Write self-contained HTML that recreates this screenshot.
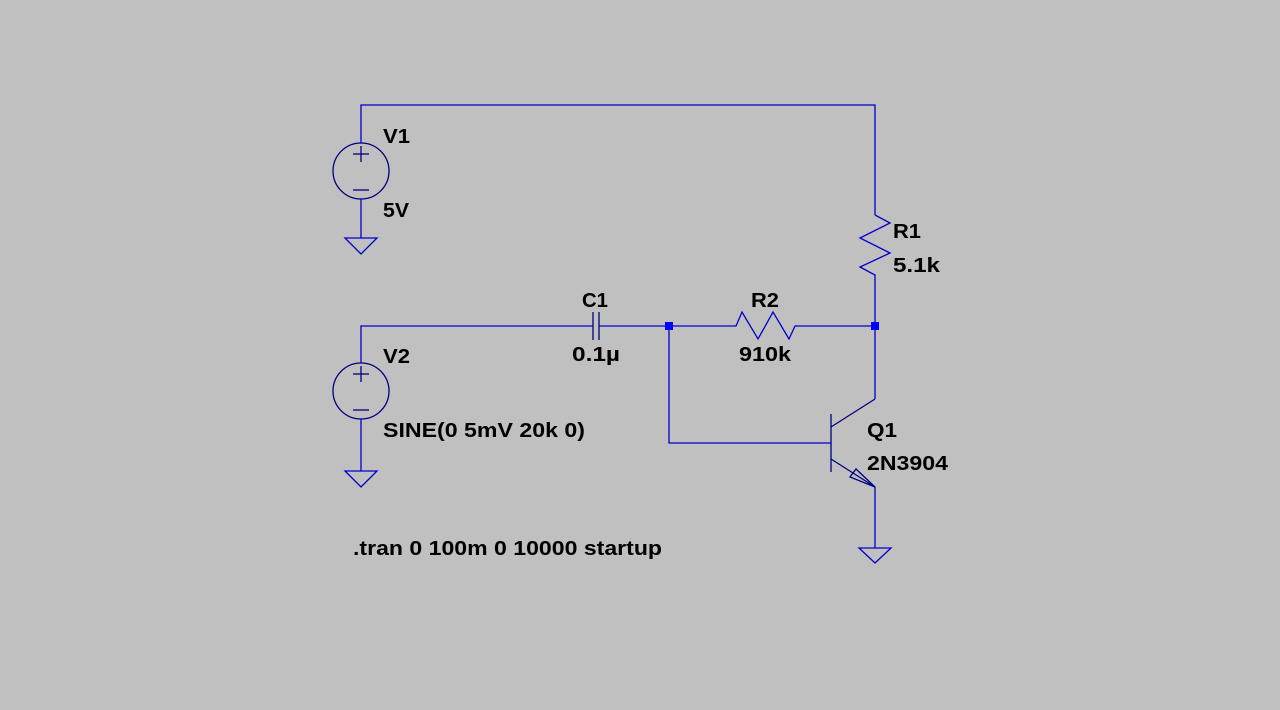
<!DOCTYPE html>
<html><head><style>
html,body{margin:0;padding:0;background:#c0c0c0;}
svg{display:block}
text{font-family:"Liberation Sans",sans-serif;font-weight:bold;font-size:20px;fill:#000;}
</style></head><body>
<svg width="1280" height="710" viewBox="0 0 1280 710">
<g stroke="#0000cc" stroke-width="1.3" fill="none">
<polyline points="361,143 361,105 875,105 875,215"/>
<polyline points="875,215 890,223 860,238 890,253 860,267 875,275 875,399"/>
<circle cx="361" cy="171" r="28" stroke="#000080"/>
<line x1="353" y1="154" x2="369" y2="154" stroke="#000080"/><line x1="361" y1="146" x2="361" y2="162" stroke="#000080"/>
<line x1="353" y1="190" x2="369" y2="190" stroke="#000080"/>
<line x1="361" y1="199" x2="361" y2="238"/>
<polygon points="345,238 377,238 361,254"/>
<polyline points="361,363 361,326 593,326"/>
<circle cx="361" cy="391" r="28" stroke="#000080"/>
<line x1="353" y1="374" x2="369" y2="374" stroke="#000080"/><line x1="361" y1="366" x2="361" y2="382" stroke="#000080"/>
<line x1="353" y1="410" x2="369" y2="410" stroke="#000080"/>
<line x1="361" y1="419" x2="361" y2="471"/>
<polygon points="345,471 377,471 361,487"/>
<line x1="593" y1="312" x2="593" y2="340" stroke="#000080"/>
<line x1="599" y1="312" x2="599" y2="340" stroke="#000080"/>
<polyline points="599,326 736,326 742,312 758,339 773,312 789,339 795,326 875,326"/>
<polyline points="669,326 669,443 831,443"/>
<g stroke="#000080">
<line x1="831" y1="414" x2="831" y2="472"/>
<line x1="831" y1="427" x2="875" y2="399"/>
<line x1="831" y1="459" x2="875" y2="487"/>
<polygon points="875,487 850,477 856,469"/>
</g>
<polyline points="875,487 875,548"/>
<polygon points="859,548 891,548 875,563"/>
</g>
<rect x="665" y="322" width="8" height="8" fill="#0000ff"/>
<rect x="871" y="322" width="8" height="8" fill="#0000ff"/>
<text x="383" y="143" textLength="27" lengthAdjust="spacingAndGlyphs">V1</text>
<text x="383" y="217" textLength="26" lengthAdjust="spacingAndGlyphs">5V</text>
<text x="383" y="363" textLength="27" lengthAdjust="spacingAndGlyphs">V2</text>
<text x="383" y="437" textLength="202" lengthAdjust="spacingAndGlyphs">SINE(0 5mV 20k 0)</text>
<text x="582" y="307" textLength="26" lengthAdjust="spacingAndGlyphs">C1</text>
<text x="572" y="361" textLength="48" lengthAdjust="spacingAndGlyphs">0.1µ</text>
<text x="751" y="307" textLength="28" lengthAdjust="spacingAndGlyphs">R2</text>
<text x="739" y="361" textLength="52" lengthAdjust="spacingAndGlyphs">910k</text>
<text x="893" y="238" textLength="28" lengthAdjust="spacingAndGlyphs">R1</text>
<text x="893" y="272" textLength="47" lengthAdjust="spacingAndGlyphs">5.1k</text>
<text x="867" y="437" textLength="30" lengthAdjust="spacingAndGlyphs">Q1</text>
<text x="867" y="470" textLength="81" lengthAdjust="spacingAndGlyphs">2N3904</text>
<text x="353" y="555" textLength="309" lengthAdjust="spacingAndGlyphs">.tran 0 100m 0 10000 startup</text>
</svg>
</body></html>
